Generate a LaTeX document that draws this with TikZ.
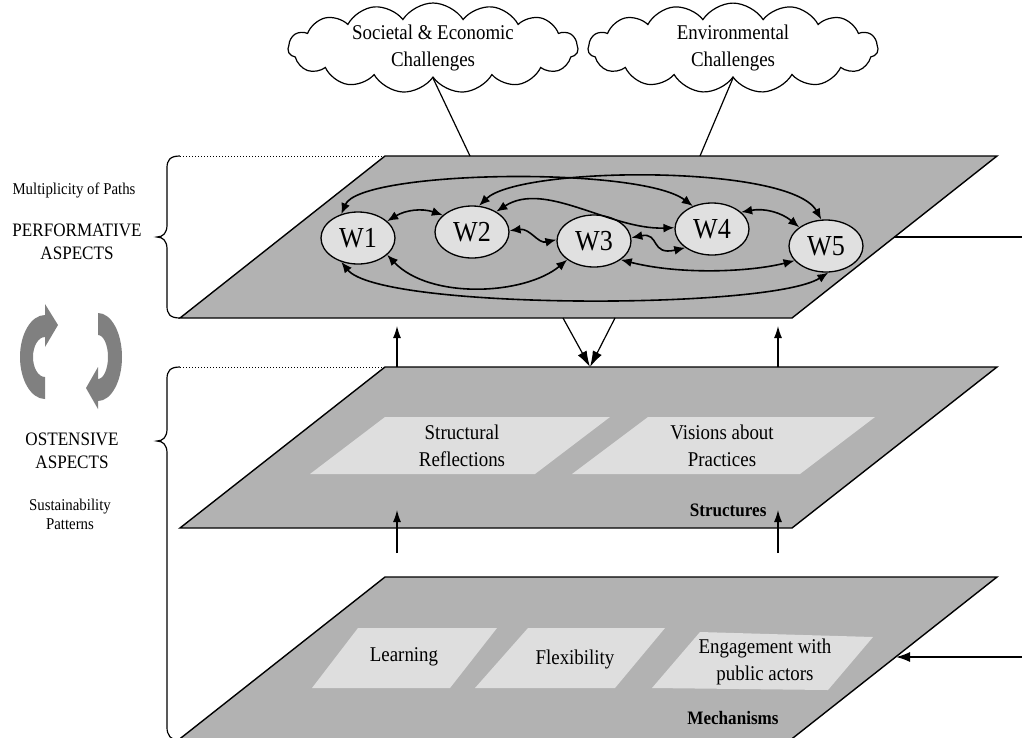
\documentclass[tikz,border=0pt]{standalone}
\usepackage{fontspec}
\setmainfont{Liberation Serif}[FakeStretch=0.9]
\usetikzlibrary{shapes.geometric,shapes.symbols,arrows.meta}
\definecolor{planeg}{HTML}{B2B2B2}
\definecolor{inboxg}{HTML}{DEDEDE}
\definecolor{wfillg}{HTML}{E0E0E0}
\definecolor{cycg}{HTML}{808080}
\begin{document}
\begin{tikzpicture}[x=1pt,y=1pt,
  planebox/.style={fill=planeg,draw=black,line width=1.4,line join=miter},
  innerbox/.style={fill=inboxg},
  wnode/.style={ellipse,draw=black,line width=1.3,fill=wfillg,minimum width=74,minimum height=52,inner sep=0,font=\fontsize{29}{30}\selectfont},
  link/.style={line width=1.6,{Latex[length=11,width=9]}-{Latex[length=11,width=9]}},
  upar/.style={line width=1.2,-{Latex[length=12,width=8]}},
  downar/.style={line width=1.2,-{Latex[length=16,width=10]}},
  cloudnode/.style={cloud,draw=black,line width=1.2,fill=white,cloud puffs=15,cloud puff arc=115,aspect=3.5,minimum width=290,minimum height=82,inner sep=0,align=center,font=\fontsize{21}{27}\selectfont},
  lbl/.style={align=center,font=\fontsize{21}{27}\selectfont},
  boldlbl/.style={font=\bfseries\fontsize{19}{22}\selectfont},
  side/.style={align=center,font=\fontsize{19}{23}\selectfont},
  smalltxt/.style={align=center,font=\fontsize{16.5}{19}\selectfont},
  bracepath/.style={line width=1.2},
  cycfill/.style={fill=cycg}
]
\useasboundingbox (0,0) rectangle (1022,-737);
\clip (0,0) rectangle (1022,-737);

% planes
\path[planebox] (385,-156) -- (997,-156) -- (792,-318) -- (180,-318) -- cycle;
\path[planebox] (385,-367) -- (997,-367) -- (792,-528) -- (180,-528) -- cycle;
\path[planebox] (385,-577) -- (997,-577) -- (765,-760) -- (153,-760) -- cycle;

% inner boxes structures
\path[innerbox] (310,-474) -- (535,-474) -- (610,-417) -- (385,-417) -- cycle;
\path[innerbox] (572,-474) -- (800,-474) -- (875,-417) -- (648,-417) -- cycle;
\node[lbl] (sr) at (462,-446) {Structural\\Reflections};
\node[lbl] (vp) at (722,-446) {Visions about\\Practices};
\node[boldlbl,anchor=east] (struct) at (770,-510) {Structures};

% inner boxes mechanisms
\path[innerbox] (312,-688) -- (450,-688) -- (497,-628) -- (358,-628) -- cycle;
\path[innerbox] (475,-688) -- (615,-688) -- (665,-628) -- (528,-628) -- cycle;
\path[innerbox] (652,-688) -- (828,-690) -- (873,-637) -- (700,-632) -- cycle;
\node[lbl] (learn) at (404,-657) {Learning};
\node[lbl] (flex) at (575,-659) {Flexibility};
\node[lbl] (eng) at (765,-662) {Engagement with\\public actors};
\node[boldlbl] (mech) at (733,-718) {Mechanisms};

% clouds
\node[cloudnode] (cl1) at (433,-48) {Societal \& Economic\\Challenges};
\node[cloudnode] (cl2) at (733,-48) {Environmental\\Challenges};
\coordinate (cl1e) at (470,-156);
\coordinate (cl2e) at (700,-156);
\draw[line width=1.2] (cl1.south) -- (cl1e);
\draw[line width=1.2] (cl2.south) -- (cl2e);

% W nodes
\node[wnode] (W1) at (358,-238) {W1};
\node[wnode] (W2) at (472,-232) {W2};
\node[wnode] (W3) at (594,-241) {W3};
\node[wnode] (W4) at (712,-229) {W4};
\node[wnode] (W5) at (826,-246) {W5};

\draw[link] (W1.30) to[bend left=25] (W2.150);
\draw[link] (W2.2) .. controls (530,-228) and (538,-244) .. (W3.178);
\draw[link] (W3.5) .. controls (660,-232) and (650,-256) .. (W4.215);
\draw[link] (W4.30) to[bend left=25] (W5.145);
\draw[link] (W1.125) .. controls (360,-170) and (640,-166) .. (W4.130);
\draw[link] (W2.75) .. controls (520,-166) and (790,-164) .. (W5.100);
\draw[link] (W2.40) .. controls (545,-180) and (610,-230) .. (W4.178);
\draw[link] (W1.330) .. controls (430,-300) and (525,-295) .. (W3.215);
\draw[link] (W3.325) .. controls (680,-275) and (750,-272) .. (W5.205);
\draw[link] (W1.235) .. controls (380,-310) and (770,-310) .. (W5.275);

% arrows between planes
\coordinate (d1s) at (563,-318);
\coordinate (d2s) at (615,-318);
\coordinate (dm) at (590,-367);
\draw[downar] (d1s) -- (dm);
\draw[downar] (d2s) -- (dm);
\coordinate (u1a) at (397,-367); \coordinate (u1b) at (397,-326);
\coordinate (u2a) at (778,-367); \coordinate (u2b) at (778,-326);
\coordinate (u3a) at (397,-553); \coordinate (u3b) at (397,-510);
\coordinate (u4a) at (778,-553); \coordinate (u4b) at (778,-510);
\draw[upar] (u1a) -- (u1b);
\draw[upar] (u2a) -- (u2b);
\draw[upar] (u3a) -- (u3b);
\draw[upar] (u4a) -- (u4b);

% right side lines
\coordinate (r1a) at (894,-237); \coordinate (r1b) at (1022,-237);
\draw[line width=1.4] (r1a) -- (r1b);
\coordinate (r2a) at (1022,-657); \coordinate (r2b) at (896,-657);
\draw[line width=1.4,-{Latex[length=14,width=10]}] (r2a) -- (r2b);

% braces and dotted lines
\draw[bracepath] (180,-156) .. controls (170,-156) and (167,-160) .. (167,-168) -- (167,-225)
  .. controls (167,-233) and (163,-237) .. (157,-237)
  .. controls (163,-237) and (167,-241) .. (167,-249) -- (167,-306)
  .. controls (167,-314) and (170,-318) .. (180,-318);
\draw[dotted,line width=1] (180,-156) -- (385,-156);
\draw[bracepath] (180,-367) .. controls (170,-367) and (167,-371) .. (167,-379) -- (167,-429)
  .. controls (167,-437) and (163,-441) .. (157,-441)
  .. controls (163,-441) and (167,-445) .. (167,-453) -- (167,-727)
  .. controls (167,-735) and (170,-740) .. (180,-740);
\draw[dotted,line width=1] (180,-367) -- (385,-367);

% side labels
\node[smalltxt] (mult) at (74,-190) {Multiplicity of Paths};
\node[side] (perf) at (77,-242) {PERFORMATIVE\\ASPECTS};
\node[side] (ost) at (72,-451) {OSTENSIVE\\ASPECTS};
\node[smalltxt] (sust) at (70,-514) {Sustainability\\Patterns};

% cycle arrows
\path[cycfill] (45,-399) arc[start angle=-90,end angle=-270,x radius=25,y radius=42]
  -- (45,-337) arc[start angle=90,end angle=270,x radius=12,y radius=20] -- cycle;
\path[cycfill] (45,-304) -- (58,-325) -- (45,-347) -- cycle;
\path[cycfill] (98,-313) arc[start angle=90,end angle=-90,x radius=24,y radius=44]
  -- (98,-379) arc[start angle=-90,end angle=90,x radius=10,y radius=22] -- cycle;
\path[cycfill] (98,-367) -- (86,-388) -- (98,-409) -- cycle;
\end{tikzpicture}
\end{document}
